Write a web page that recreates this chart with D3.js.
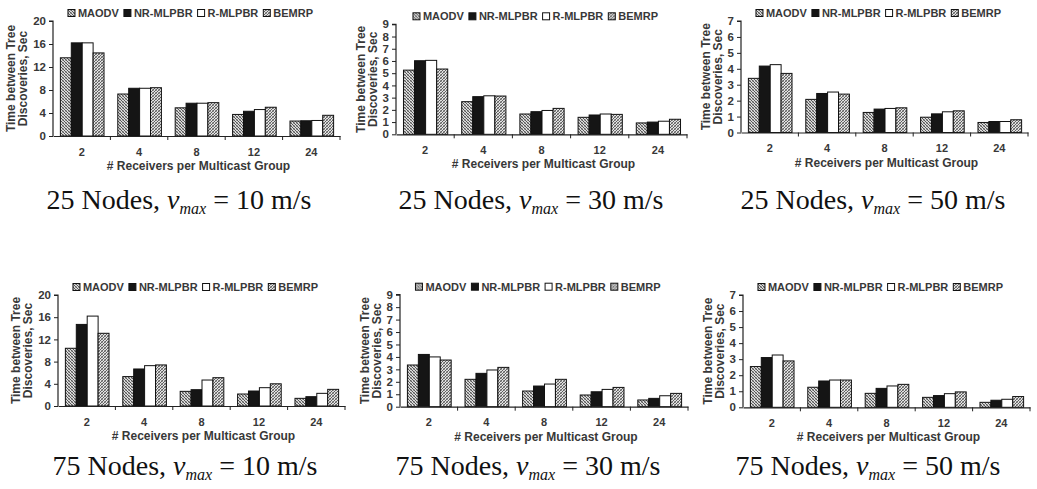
<!DOCTYPE html>
<html><head><meta charset="utf-8">
<script src="https://cdn.jsdelivr.net/npm/d3@7"></script>
<style>
body{margin:0;background:#fff;}
svg{display:block;}
</style></head>
<body>
<svg id="c" width="1037" height="489"></svg>
<script>
// ---------------- DATA ----------------
const categories = ["2", "4", "8", "12", "24"];
const seriesNames = ["MAODV", "NR-MLPBR", "R-MLPBR", "BEMRP"];

const yTicks20 = [0, 4, 8, 12, 16, 20];
const yTicks9 = [0, 1, 2, 3, 4, 5, 6, 7, 8, 9];
const yTicks7 = [0, 1, 2, 3, 4, 5, 6, 7];

const nodeCounts = [25, 25, 25, 75, 75, 75];
const maxSpeeds = [10, 30, 50, 10, 30, 50];

// 25 nodes, vmax = 10
const maodv_25_10 = [13.6, 7.3, 4.9, 3.75, 2.6];
const nr_25_10    = [16.2, 8.3, 5.7, 4.3, 2.65];
const r_25_10     = [16.2, 8.3, 5.7, 4.6, 2.7];
const bemrp_25_10 = [14.45, 8.4, 5.8, 5.0, 3.6];
// 25 nodes, vmax = 30
const maodv_25_30 = [5.25, 2.67, 1.66, 1.39, 0.93];
const nr_25_30    = [6.02, 3.08, 1.85, 1.58, 1.0];
const r_25_30     = [6.05, 3.15, 1.95, 1.66, 1.07];
const bemrp_25_30 = [5.34, 3.13, 2.12, 1.63, 1.23];
// 25 nodes, vmax = 50
const maodv_25_50 = [3.4, 2.08, 1.26, 0.96, 0.63];
const nr_25_50    = [4.17, 2.45, 1.47, 1.17, 0.69];
const r_25_50     = [4.26, 2.54, 1.51, 1.3, 0.69];
const bemrp_25_50 = [3.71, 2.41, 1.55, 1.36, 0.8];
// 75 nodes, vmax = 10
const maodv_75_10 = [10.4, 5.3, 2.64, 2.16, 1.38];
const nr_75_10    = [14.7, 6.67, 2.94, 2.7, 1.68];
const r_75_10     = [16.2, 7.27, 4.68, 3.3, 2.28];
const bemrp_75_10 = [13.1, 7.4, 5.1, 4.0, 3.0];
// 75 nodes, vmax = 30
const maodv_75_30 = [3.35, 2.2, 1.26, 0.94, 0.54];
const nr_75_30    = [4.2, 2.68, 1.66, 1.2, 0.67];
const r_75_30     = [4.0, 2.95, 1.82, 1.39, 0.88];
const bemrp_75_30 = [3.75, 3.16, 2.2, 1.55, 1.07];
// 75 nodes, vmax = 50
const maodv_75_50 = [2.54, 1.25, 0.87, 0.62, 0.31];
const nr_75_50    = [3.1, 1.64, 1.18, 0.73, 0.44];
const r_75_50     = [3.26, 1.7, 1.33, 0.85, 0.5];
const bemrp_75_50 = [2.89, 1.7, 1.43, 0.96, 0.67];

const yTitleLines = ["Time between Tree", "Discoveries, Sec"];
const xTitle = "# Receivers per Multicast Group";

// ---------------- LAYOUT ----------------
const panels = [
  {series:[maodv_25_10, nr_25_10, r_25_10, bemrp_25_10], ticks:yTicks20, x0:53, x1:340, yTop:21, yBot:136, capX:179, capY:209},
  {series:[maodv_25_30, nr_25_30, r_25_30, bemrp_25_30], ticks:yTicks9, x0:396, x1:687, yTop:24.3, yBot:134.3, capX:531, capY:209},
  {series:[maodv_25_50, nr_25_50, r_25_50, bemrp_25_50], ticks:yTicks7, x0:741, x1:1028, yTop:21, yBot:132.5, capX:873, capY:209},
  {series:[maodv_75_10, nr_75_10, r_75_10, bemrp_75_10], ticks:yTicks20, x0:58, x1:345, yTop:295, yBot:406, capX:185, capY:475},
  {series:[maodv_75_30, nr_75_30, r_75_30, bemrp_75_30], ticks:yTicks9, x0:400, x1:688, yTop:294.7, yBot:406.7, capX:528, capY:475},
  {series:[maodv_75_50, nr_75_50, r_75_50, bemrp_75_50], ticks:yTicks7, x0:743, x1:1030, yTop:295, yBot:407.3, capX:868, capY:475}
];

const svg = d3.select("#c");
const defs = svg.append("defs");

// cross-hatch patterns
function hatch(id, bg, main, sub, mainFwd) {
  const s = 3;
  const p = defs.append("pattern").attr("id", id).attr("patternUnits", "userSpaceOnUse")
    .attr("width", s).attr("height", s);
  p.append("rect").attr("width", s).attr("height", s).attr("fill", bg);
  const back = `M0,0 L${s},${s} M-1,${s-1} L1,${s+1} M${s-1},-1 L${s+1},1`;
  const fwd = `M0,${s} L${s},0 M-1,1 L1,-1 M${s-1},${s+1} L${s+1},${s-1}`;
  p.append("path").attr("d", mainFwd ? back : fwd).attr("stroke", sub).attr("stroke-width", 0.7);
  p.append("path").attr("d", mainFwd ? fwd : back).attr("stroke", main).attr("stroke-width", 0.9);
}
hatch("hMAODV", "#dcdcdc", "#4a4a4a", "#8a8a8a", false);
hatch("hBEMRP", "#e2e2e2", "#555", "#7a7a7a", true);

const fills = ["url(#hMAODV)", "#151515", "#fff", "url(#hBEMRP)"];
const font = "'Liberation Sans', Arial, sans-serif";
const txtCol = "#383838";

panels.forEach((P, pi) => {
  const g = svg.append("g");
  const yMax = P.ticks[P.ticks.length - 1];
  const x = d3.scaleBand().domain(categories).range([P.x0, P.x1]).paddingInner(0).paddingOuter(0);
  const inner = d3.scaleBand().domain(seriesNames).range([0, x.bandwidth() * 0.76]);
  const off = x.bandwidth() * 0.12;
  const y = d3.scaleLinear().domain([0, yMax]).range([P.yBot, P.yTop]);

  // bars
  seriesNames.forEach((s, si) => {
    g.append("g").selectAll("rect").data(P.series[si]).join("rect")
      .attr("x", (d, i) => x(categories[i]) + off + inner(s) + 0.5)
      .attr("y", d => y(d))
      .attr("width", inner.bandwidth())
      .attr("height", d => P.yBot - y(d))
      .attr("fill", fills[si])
      .attr("stroke", "#111").attr("stroke-width", 1);
  });

  // y axis
  const ya = g.append("g").attr("transform", `translate(${P.x0},0)`)
    .call(d3.axisLeft(y).tickValues(P.ticks).tickSize(4).tickPadding(3).tickFormat(d3.format("d")));
  ya.select(".domain").attr("stroke", "#222").attr("stroke-width", 1.2).attr("d", `M-4,${P.yTop}H0V${P.yBot}`);
  ya.selectAll(".tick line").attr("stroke", "#222");
  ya.selectAll("text").attr("font-family", font).attr("font-size", 11.5).attr("font-weight", "bold").attr("fill", txtCol);

  // x axis
  const xa = g.append("g").attr("transform", `translate(0,${P.yBot})`)
    .call(d3.axisBottom(x).tickSize(0).tickPadding(12));
  xa.select(".domain").attr("stroke", "#222").attr("stroke-width", 1.2);
  xa.selectAll("text").attr("font-family", font).attr("font-size", 11).attr("font-weight", "bold").attr("fill", txtCol);
  // boundary tick marks
  g.append("g").selectAll("line").data(categories).join("line")
    .attr("x1", d => x(d) + x.bandwidth()).attr("x2", d => x(d) + x.bandwidth())
    .attr("y1", P.yBot).attr("y2", P.yBot + 4).attr("stroke", "#222");

  // x title
  g.append("text").attr("x", (P.x0 + P.x1) / 2 + 2).attr("y", P.yBot + 34)
    .attr("text-anchor", "middle").attr("font-family", font).attr("font-size", 12)
    .attr("font-weight", "bold").attr("fill", txtCol).text(xTitle);

  // y title
  const yc = (P.yTop + P.yBot) / 2;
  const yt = g.append("text").attr("transform", `translate(${P.x0 - (yMax >= 10 ? 38 : 31)},${yc}) rotate(-90)`)
    .attr("text-anchor", "middle").attr("font-family", font).attr("font-size", 12)
    .attr("font-weight", "bold").attr("fill", txtCol);
  yTitleLines.forEach((l, li) => yt.append("tspan").attr("x", 0).attr("dy", li === 0 ? 0 : 12).text(l));

  // legend
  const lg = g.append("g");
  let cx = 0;
  seriesNames.forEach((s, si) => {
    lg.append("rect").attr("x", cx).attr("y", -3.5).attr("width", 7).attr("height", 7)
      .attr("fill", fills[si]).attr("stroke", "#111").attr("stroke-width", 1);
    cx += 10;
    const t = lg.append("text").attr("x", cx).attr("y", 4).attr("font-family", font).attr("font-size", 11)
      .attr("font-weight", "bold").attr("fill", txtCol).text(s);
    cx += t.node().getComputedTextLength() + 5;
  });
  const lw = cx - 5;
  lg.attr("transform", `translate(${(P.x0 + P.x1) / 2 - 6 - lw / 2},${P.yTop - 8})`);

  // caption
  const cap = svg.append("text").attr("x", P.capX).attr("y", P.capY).attr("text-anchor", "middle")
    .attr("font-family", "'Liberation Serif', 'Times New Roman', serif").attr("font-size", 28).attr("fill", "#111");
  cap.append("tspan").text(`${nodeCounts[pi]} Nodes, `);
  cap.append("tspan").attr("font-style", "italic").text("v");
  cap.append("tspan").attr("font-style", "italic").attr("font-size", 16).attr("dy", 5).text("max");
  cap.append("tspan").attr("dy", -5).text(` = ${maxSpeeds[pi]} m/s`);
});
</script>
</body></html>
